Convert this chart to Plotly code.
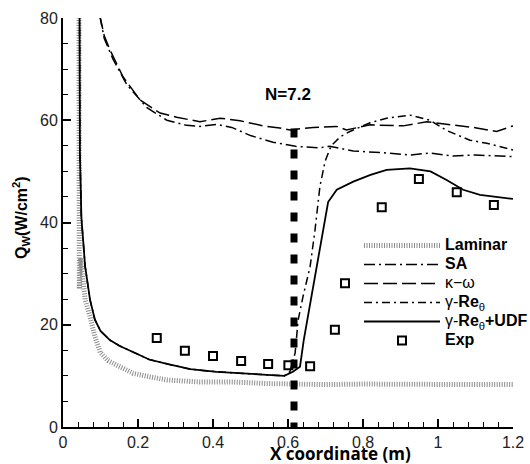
import plotly.graph_objects as go

# ---------------- data ----------------
lam_x = [0.0425, 0.0435, 0.047, 0.052, 0.059, 0.072, 0.085, 0.099, 0.12, 0.143, 0.187, 0.232,
         0.277, 0.365, 0.455, 0.543, 0.6, 0.7, 0.8, 0.9, 1.0, 1.1, 1.2]
lam_y = [85, 27, 33, 28.5, 24.9, 21.6, 17.7, 14.6, 13.0, 12.1, 10.5, 9.8,
         9.2, 8.8, 8.8, 8.5, 8.4, 8.3, 8.4, 8.3, 8.4, 8.3, 8.3]

sa_x = [0.098, 0.11, 0.133, 0.17, 0.223, 0.277, 0.33, 0.365, 0.41, 0.45, 0.5, 0.56, 0.62,
        0.68, 0.711, 0.774, 0.863, 0.925, 0.979, 1.04, 1.1, 1.2]
sa_y = [80.5, 76.0, 72.0, 67.0, 62.5, 60.0, 59.0, 58.8, 59.2, 58.6, 57.0, 55.7, 54.9,
        54.6, 54.9, 54.0, 53.6, 53.2, 53.6, 53.0, 53.2, 52.9]

kw_x = [0.098, 0.11, 0.125, 0.16, 0.205, 0.259, 0.303, 0.365, 0.419, 0.472, 0.534, 0.578,
        0.605, 0.667, 0.729, 0.756, 0.819, 0.907, 0.97, 1.032, 1.103, 1.156, 1.2]
kw_y = [80.5, 76.5, 73.8, 68.5, 64.0, 61.4, 60.6, 59.7, 60.4, 59.9, 58.9, 58.5,
        58.1, 58.6, 58.8, 58.1, 59.1, 58.9, 59.7, 59.1, 58.5, 57.8, 58.9]

udf_x = [0.044, 0.045, 0.049, 0.059, 0.072, 0.085, 0.1, 0.125, 0.15, 0.19, 0.23, 0.28, 0.34,
         0.41, 0.46, 0.5, 0.55, 0.59, 0.613, 0.632, 0.642, 0.659, 0.676, 0.69, 0.707, 0.73,
         0.774, 0.82, 0.863, 0.925, 0.98, 1.023, 1.067, 1.112, 1.165, 1.2]
udf_y = [85, 54, 41, 31.4, 24.9, 21.0, 18.8, 17.0, 15.9, 14.6, 13.2, 12.3, 11.3,
         10.8, 10.6, 10.4, 10.1, 10.0, 10.8, 11.8, 17.0, 24.0, 31.3, 37.5, 44.0, 46.4,
         48.0, 49.3, 50.3, 50.6, 50.0, 48.3, 46.4, 45.4, 45.0, 44.6]

gre_x = [0.044, 0.045, 0.049, 0.059, 0.072, 0.085, 0.1, 0.125, 0.15, 0.19, 0.23, 0.28, 0.34,
         0.41, 0.46, 0.5, 0.55, 0.59, 0.605, 0.619, 0.627, 0.64, 0.659, 0.672, 0.685, 0.699,
         0.715, 0.74, 0.765, 0.819, 0.863, 0.925, 0.979, 1.023, 1.085, 1.13, 1.2]
gre_y = [85, 54, 41, 31.4, 24.9, 21.0, 18.8, 17.0, 15.9, 14.6, 13.2, 12.3, 11.3,
         10.8, 10.6, 10.4, 10.1, 10.0, 10.8, 14.5, 20.9, 25.5, 31.4, 38.5, 47.0, 52.0,
         55.0, 56.8, 57.8, 59.5, 60.4, 61.0, 60.0, 58.0, 56.1, 55.5, 54.2]

exp_x = [0.25, 0.325, 0.4, 0.475, 0.547, 0.601, 0.659, 0.725, 0.752, 0.85, 0.949, 1.05, 1.149]
exp_y = [17.4, 14.9, 13.9, 12.9, 12.3, 12.1, 11.9, 19.0, 28.1, 43.0, 48.5, 45.9, 43.4]

n_label = "N=7.2"
n_x = 0.616          # location of the N=7.2 marker line
n_top = 58.4

x_ticks = [0, 0.2, 0.4, 0.6, 0.8, 1.0, 1.2]
y_ticks = [0, 20, 40, 60, 80]

# ---------------- figure ----------------
SANS = "Liberation Sans, Arial, sans-serif"


def lg(txt):
    return "<span style='font-size:16px'>" + txt + "</span>"


fig = go.Figure()

fig.add_trace(go.Scatter(x=lam_x, y=lam_y, mode="lines", name=lg("<b>Laminar</b>"),
                         line=dict(color="#8c8c8c", width=5, dash="1px,1.5px")))
fig.add_trace(go.Scatter(x=sa_x, y=sa_y, mode="lines", name=lg("<b>SA</b>"),
                         line=dict(color="black", width=1.5, dash="11px,4px,2px,4px")))
fig.add_trace(go.Scatter(x=kw_x, y=kw_y, mode="lines", name=lg("κ−ω"),
                         line=dict(color="black", width=1.5, dash="14px,5px")))
fig.add_trace(go.Scatter(x=gre_x, y=gre_y, mode="lines",
                         name=lg("γ-<b>Re</b><sub>θ</sub>"),
                         line=dict(color="black", width=1.5, dash="8px,4px,2px,4px")))
fig.add_trace(go.Scatter(x=udf_x, y=udf_y, mode="lines",
                         name=lg("γ-<b>Re</b><sub>θ</sub><b>+UDF</b>"),
                         line=dict(color="black", width=1.8)))
fig.add_trace(go.Scatter(x=exp_x, y=exp_y, mode="markers", name=lg("<b>Exp</b>"),
                         marker=dict(symbol="square-open", size=8, color="black",
                                     line=dict(width=2, color="black"))))
fig.add_trace(go.Scatter(x=[n_x, n_x], y=[n_top, 0], mode="lines", showlegend=False,
                         line=dict(color="black", width=7, dash="9px,12px")))

fig.add_annotation(x=0.601, y=65, xref="x", yref="y", text="<b>" + n_label + "</b>",
                   showarrow=False, font=dict(family=SANS, size=17, color="black"))

# axis titles as annotations for exact placement
fig.add_annotation(x=(340 - 63) / 450, y=-(453 - 427) / 409, xref="paper", yref="paper",
                   xanchor="center", yanchor="middle",
                   text="<b>X coordinate (m)</b>", showarrow=False,
                   font=dict(family="Open Sans, sans-serif", size=17, color="black"))
fig.add_annotation(x=-(63 - 21) / 450, y=1 - (218 - 18) / 409, xref="paper", yref="paper",
                   xanchor="center", yanchor="middle",
                   text="<b>Q<sub>W</sub>(W/cm<sup>2</sup>)</b>", showarrow=False,
                   textangle=-90,
                   font=dict(family=SANS, size=16, color="black"))

axis_common = dict(showgrid=False, zeroline=False, showline=True, linecolor="black",
                   linewidth=2, ticks="inside", ticklen=8, tickwidth=1.5, tickcolor="black",
                   tickfont=dict(family=SANS, size=16, color="#222"), mirror=False)

fig.update_xaxes(range=[0, 1.2], tickvals=x_ticks, ticktext=[f"{v:g}" for v in x_ticks],
                 minor=dict(ticks="inside", ticklen=5, tickwidth=1, tickcolor="black",
                            dtick=0.04, tick0=0), **axis_common)
fig.update_yaxes(range=[0, 80], tickvals=y_ticks, ticktext=[str(v) for v in y_ticks],
                 minor=dict(ticks="inside", ticklen=5, tickwidth=1, tickcolor="black",
                            dtick=5, tick0=0), **axis_common)

fig.update_layout(
    width=530, height=464,
    margin=dict(l=63, r=17, t=18, b=37, autoexpand=False),
    paper_bgcolor="white", plot_bgcolor="white",
    showlegend=True,
    legend=dict(x=(359 - 63) / 450, y=1 - (231 - 18) / 409, xanchor="left", yanchor="top",
                bgcolor="rgba(0,0,0,0)", itemwidth=76, tracegroupgap=0,
                font=dict(family=SANS, size=12, color="black")),
)

fig.write_html("out.html")
